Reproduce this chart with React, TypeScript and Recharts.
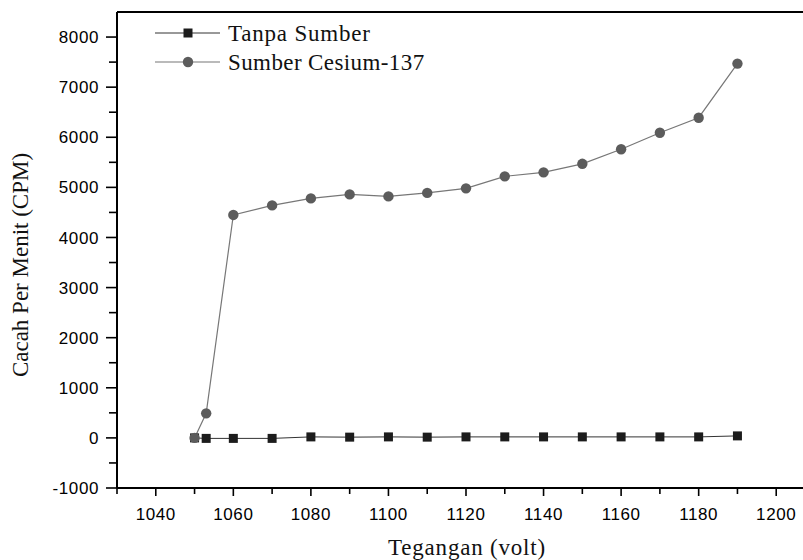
import { LineChart, Line, XAxis, YAxis, ReferenceLine } from 'recharts';

const voltages = [1050, 1053, 1060, 1070, 1080, 1090, 1100, 1110, 1120, 1130, 1140, 1150, 1160, 1170, 1180, 1190];
const tanpaSumber = [0, -10, -10, -10, 20, 15, 20, 15, 20, 20, 20, 20, 20, 20, 20, 40];
const sumberCesium = [0, 490, 4450, 4640, 4780, 4860, 4820, 4890, 4980, 5220, 5300, 5470, 5760, 6090, 6390, 7470];

const xTicks = [1030, 1040, 1050, 1060, 1070, 1080, 1090, 1100, 1110, 1120, 1130, 1140, 1150, 1160, 1170, 1180, 1190, 1200, 1210];
const yTicks = [-1000, -500, 0, 500, 1000, 1500, 2000, 2500, 3000, 3500, 4000, 4500, 5000, 5500, 6000, 6500, 7000, 7500, 8000];

const data = voltages.map((v, i) => ({
  volt: v,
  tanpa: tanpaSumber[i],
  cesium: sumberCesium[i],
}));

const sans = '"Liberation Sans", Arial, sans-serif';
const serif = '"Liberation Serif", "Times New Roman", serif';

const XTick = (props: any) => {
  const { x, y, payload } = props;
  const major = payload.value % 20 === 0;
  return (
    <g>
      <line x1={x} x2={x} y1={y} y2={y + (major ? 8 : 6)} stroke="#000" strokeWidth={1.6} />
      {major && (
        <text x={x} y={y + 32} textAnchor="middle" fontFamily={sans} fontSize={17} letterSpacing={0.6} fill="#000">
          {payload.value}
        </text>
      )}
    </g>
  );
};

const YTick = (props: any) => {
  const { x, y, payload } = props;
  const major = payload.value % 1000 === 0;
  return (
    <g>
      <line x1={x} x2={x - (major ? 11 : 8)} y1={y} y2={y} stroke="#000" strokeWidth={1.6} />
      {major && (
        <text x={x - 18} y={y} dy="0.36em" textAnchor="end" fontFamily={sans} fontSize={17} letterSpacing={0.6} fill="#000">
          {payload.value}
        </text>
      )}
    </g>
  );
};

const SquareDot = (props: any) => {
  const { cx, cy, index } = props;
  return <rect key={`sq-${index}`} x={cx - 4.5} y={cy - 4.5} width={9} height={9} fill="#1c1c1c" />;
};

const CircleDot = (props: any) => {
  const { cx, cy, index } = props;
  return <circle key={`ci-${index}`} cx={cx} cy={cy} r={5.2} fill="#5c5c5c" />;
};

export default function App() {
  return (
    <div style={{ position: 'fixed', left: 0, top: 0, width: 803, height: 560, overflow: 'hidden', background: '#fff' }}>
      <LineChart width={830} height={560} data={data} margin={{ top: 12, right: 15, left: 0, bottom: 0 }}>
        <XAxis
          dataKey="volt"
          type="number"
          domain={[1030, 1210]}
          ticks={xTicks}
          interval={0}
          height={72}
          tickLine={false}
          tickSize={0}
          tickMargin={0}
          tick={<XTick />}
          axisLine={{ stroke: '#000', strokeWidth: 2 }}
        />
        <YAxis
          type="number"
          domain={[-1000, 8500]}
          ticks={yTicks}
          interval={0}
          width={117}
          tickLine={false}
          tickSize={0}
          tickMargin={0}
          tick={<YTick />}
          axisLine={{ stroke: '#000', strokeWidth: 2 }}
        />
        <ReferenceLine y={8500} stroke="#000" strokeWidth={2} />
        <Line
          dataKey="tanpa"
          stroke="#333"
          strokeWidth={1}
          dot={SquareDot}
          isAnimationActive={false}
        />
        <Line
          dataKey="cesium"
          stroke="#777"
          strokeWidth={1.2}
          dot={CircleDot}
          isAnimationActive={false}
        />
      </LineChart>
      <svg width={803} height={560} style={{ position: 'absolute', left: 0, top: 0, pointerEvents: 'none' }}>
        <g>
          <line x1={155} x2={220} y1={33} y2={33} stroke="#333" strokeWidth={1} />
          <rect x={183.5} y={28.5} width={9} height={9} fill="#1c1c1c" />
          <text x={228} y={33} dy="0.33em" fontFamily={serif} fontSize={23} letterSpacing={0.8} fill="#111">
            Tanpa Sumber
          </text>
          <line x1={155} x2={220} y1={62} y2={62} stroke="#777" strokeWidth={1.2} />
          <circle cx={188} cy={62} r={5.2} fill="#5c5c5c" />
          <text x={228} y={62} dy="0.33em" fontFamily={serif} fontSize={23} letterSpacing={0.4} fill="#111">
            Sumber Cesium-137
          </text>
        </g>
        <text x={467} y={555} textAnchor="middle" fontFamily={serif} fontSize={23} letterSpacing={0.8} fill="#111">
          Tegangan (volt)
        </text>
        <text
          transform="translate(28, 265) rotate(-90)"
          textAnchor="middle"
          fontFamily={serif}
          fontSize={23}
          fill="#111"
        >
          Cacah Per Menit (CPM)
        </text>
      </svg>
    </div>
  );
}
